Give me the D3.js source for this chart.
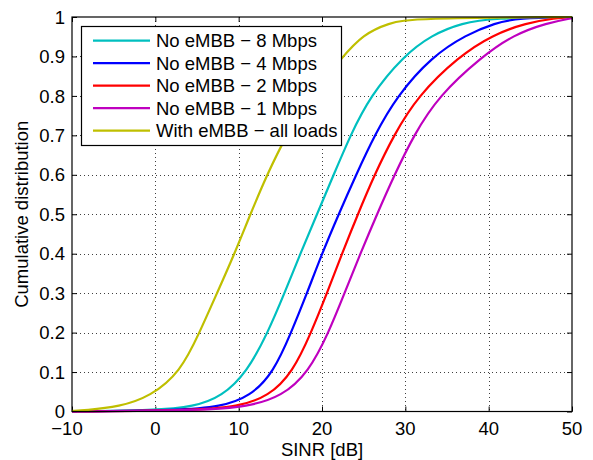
<!DOCTYPE html>
<html>
<head>
<meta charset="utf-8">
<script src="https://cdn.jsdelivr.net/npm/d3@7"></script>
<style>
  html, body { margin: 0; padding: 0; background: #fff; }
  svg { display: block; font-family: "Liberation Sans", Arial, Helvetica, sans-serif; }
</style>
</head>
<body>
<svg id="chart" width="593" height="460"></svg>
<script>
// ---- Data ----
const seriesNames = ["No eMBB \u2212 8 Mbps", "No eMBB \u2212 4 Mbps", "No eMBB \u2212 2 Mbps", "No eMBB \u2212 1 Mbps", "With eMBB \u2212 all loads"];
const seriesColors = ["#00bfbf", "#0000ff", "#ff0000", "#bf00bf", "#bfbf00"];
// CDF levels at which the SINR quantiles were read
const cdfLevels = [0.003, 0.012, 0.038, 0.1, 0.2, 0.3, 0.4, 0.5, 0.6, 0.7, 0.8, 0.9, 0.955, 0.985, 0.997];
// SINR [dB] quantiles per series
const sinr8Mbps = [0, 4.6, 8.0, 11.0, 13.5, 15.5, 17.4, 19.4, 21.4, 23.4, 25.8, 29.7, 33.2, 36.8, 40.5];
const sinr4Mbps = [3, 7.8, 11.4, 14.2, 16.3, 18.2, 20.0, 22.0, 24.1, 26.3, 29.0, 33.2, 37.3, 40.8, 43.5];
const sinr2Mbps = [5, 9.8, 13.6, 16.5, 18.7, 20.6, 22.4, 24.3, 26.3, 28.6, 31.5, 36.4, 40.5, 44.5, 48.0];
const sinr1Mbps = [6, 11.0, 15.2, 18.4, 20.8, 22.7, 24.6, 26.6, 28.7, 31.0, 34.0, 39.2, 43.0, 47.0, 50.0];
const sinrEmbb  = [-8.5, -4.3, -0.6, 3.0, 5.3, 7.4, 9.5, 11.4, 13.4, 15.7, 18.6, 22.5, 24.9, 28.0, 31.0];
const startCdf = [0, 0, 0, 0, 0.0015]; // CDF value at -10 dB
const endCdf = [1, 1, 1, 1, 1];        // CDF value at 50 dB
const xTicks = [-10, 0, 10, 20, 30, 40, 50];
const yTicks = [0, 0.1, 0.2, 0.3, 0.4, 0.5, 0.6, 0.7, 0.8, 0.9, 1];

// ---- Layout ----
const svg = d3.select("#chart");
const L = 72, R = 572, T = 17, B = 411.5;
const x = d3.scaleLinear().domain([-10, 50]).range([L, R]);
const y = d3.scaleLinear().domain([0, 1]).range([B, T]);
const FS = 18.5;

// grid
const grid = svg.append("g").attr("stroke", "#000").attr("stroke-opacity", 0.75)
  .attr("stroke-width", 1).attr("stroke-dasharray", "1,3").attr("fill", "none");
xTicks.slice(1, -1).forEach(v => {
  grid.append("line").attr("x1", Math.round(x(v)) + 0.5).attr("x2", Math.round(x(v)) + 0.5)
    .attr("y1", T).attr("y2", B);
});
yTicks.slice(1, -1).forEach(v => {
  grid.append("line").attr("y1", Math.round(y(v)) + 0.5).attr("y2", Math.round(y(v)) + 0.5)
    .attr("x1", L).attr("x2", R);
});

// axes with inward ticks (all four sides)
const tl = 5;
const axB = svg.append("g").attr("transform", `translate(0,${B})`)
  .call(d3.axisBottom(x).tickValues(xTicks).tickSizeInner(-tl).tickSizeOuter(0).tickFormat(""));
const axT = svg.append("g").attr("transform", `translate(0,${T})`)
  .call(d3.axisTop(x).tickValues(xTicks).tickSizeInner(-tl).tickSizeOuter(0).tickFormat(""));
const axL = svg.append("g").attr("transform", `translate(${L},0)`)
  .call(d3.axisLeft(y).tickValues(yTicks).tickSizeInner(-tl).tickSizeOuter(0).tickFormat(""));
const axR = svg.append("g").attr("transform", `translate(${R},0)`)
  .call(d3.axisRight(y).tickValues(yTicks).tickSizeInner(-tl).tickSizeOuter(0).tickFormat(""));
[axB, axT, axL, axR].forEach(a => { a.selectAll("path").remove(); a.selectAll("line").attr("stroke", "#000"); });

// clip
svg.append("clipPath").attr("id", "clip").append("rect")
  .attr("x", L).attr("y", T - 2).attr("width", R - L).attr("height", B - T + 4);

// curves
const allSinr = [sinr8Mbps, sinr4Mbps, sinr2Mbps, sinr1Mbps, sinrEmbb];
const line = d3.line().x(d => x(d[0])).y(d => y(d[1])).curve(d3.curveBasis);
const curves = svg.append("g").attr("clip-path", "url(#clip)");
allSinr.forEach((arr, i) => {
  const pts = [[-10, startCdf[i]]];
  arr.forEach((s, k) => pts.push([s, cdfLevels[k]]));
  if (arr[arr.length - 1] < 50) pts.push([50, endCdf[i]]);
  curves.append("path").datum(pts).attr("d", line)
    .attr("fill", "none").attr("stroke", seriesColors[i]).attr("stroke-width", 2.2)
    .attr("stroke-linejoin", "round");
});

// frame
svg.append("rect").attr("x", L).attr("y", T).attr("width", R - L).attr("height", B - T)
  .attr("fill", "none").attr("stroke", "#000").attr("stroke-width", 1.2);

// tick labels
const fmtY = d3.format("");
svg.append("g").selectAll("text").data(yTicks).join("text")
  .attr("x", 65).attr("y", d => y(d)).attr("dy", "0.36em")
  .attr("text-anchor", "end").attr("font-size", FS).text(d => fmtY(d));
svg.append("g").selectAll("text").data(xTicks).join("text")
  .attr("x", d => x(d) - (d < 0 ? 5 : 0)).attr("y", 435)
  .attr("text-anchor", "middle").attr("font-size", FS)
  .text(d => d < 0 ? "\u2212" + Math.abs(d) : String(d));

// axis titles
svg.append("text").attr("x", (L + R) / 2).attr("y", 456).attr("text-anchor", "middle")
  .attr("font-size", FS).text("SINR [dB]");
svg.append("text").attr("transform", `translate(28,${(T + B) / 2}) rotate(-90)`)
  .attr("text-anchor", "middle").attr("font-size", FS).text("Cumulative distribution");

// legend
const lg = svg.append("g");
lg.append("rect").attr("x", 81.5).attr("y", 26.5).attr("width", 260).attr("height", 119)
  .attr("fill", "#fff").attr("stroke", "#000").attr("stroke-width", 1.2);
const rowY = [40.7, 63.2, 85.7, 108.2, 130.7];
seriesNames.forEach((n, i) => {
  lg.append("line").attr("x1", 93).attr("x2", 150).attr("y1", rowY[i]).attr("y2", rowY[i])
    .attr("stroke", seriesColors[i]).attr("stroke-width", 2.2);
  lg.append("text").attr("x", 156).attr("y", rowY[i]).attr("dy", "0.36em")
    .attr("font-size", FS).text(n);
});
</script>
</body>
</html>
